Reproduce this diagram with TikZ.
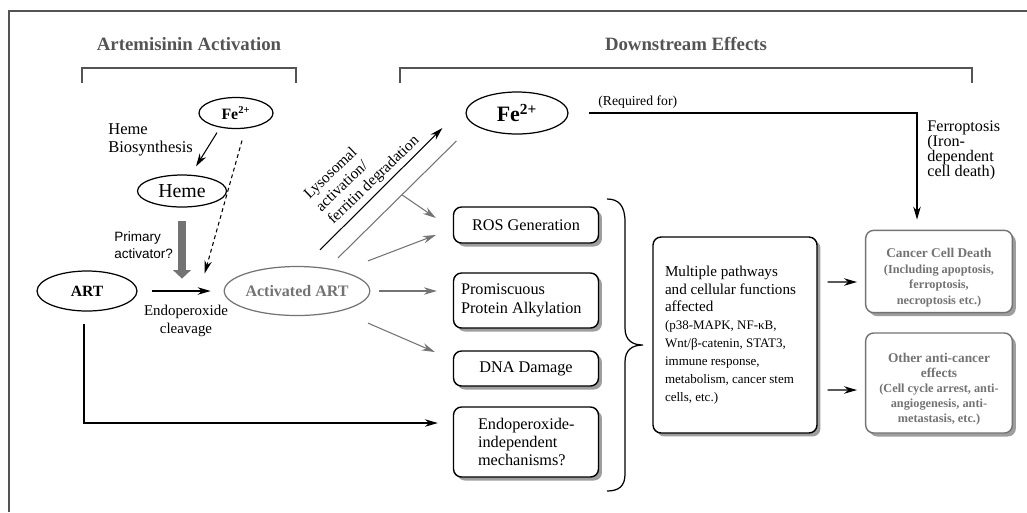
\documentclass[tikz,border=0pt]{standalone}
\usepackage{fontspec}
\setmainfont{Liberation Serif}
\newfontfamily\arialfont{Liberation Sans}
\usetikzlibrary{positioning}
\usetikzlibrary{shapes.geometric}
\usetikzlibrary{arrows.meta}
\usetikzlibrary{shadows}
\definecolor{headgray}{gray}{0.33}
\definecolor{softgray}{gray}{0.45}
\definecolor{shadegray}{gray}{0.62}
\newcommand{\setfs}[2]{\fontsize{#1}{#2}\selectfont\lineskiplimit=-6pt}
\hyphenpenalty=10000
\exhyphenpenalty=10000

\begin{document}
\begin{tikzpicture}[x=0.02cm,y=-0.02cm,
 title/.style={text=headgray,font=\setfs{10.7}{12}\bfseries},
 bracket/.style={headgray,line width=1.3pt},
 oval/.style={ellipse,draw,line width=0.7pt,inner sep=0pt},
 words/.style={inner sep=0pt,align=flush left},
 box/.style={rectangle,rounded corners=0.16cm,draw,line width=0.8pt,fill=white,
   minimum width=2.9cm,font=\setfs{9.25}{10.6},
   drop shadow={shadow xshift=0.07cm,shadow yshift=-0.07cm,fill=shadegray,opacity=1}},
 graybox/.style={box,draw=softgray,text=softgray,minimum width=2.92cm,text width=2.7cm,align=flush center},
 arr/.style={-{Stealth[length=0.26cm,width=0.15cm]},line width=0.6pt},
 grayarr/.style={arr,softgray},
 fatarrow/.style={softgray,line width=0.16cm,-{Triangle[length=0.17cm,width=0.35cm]}}]
 \useasboundingbox (0,0) rectangle (1027,512);
 \draw[headgray,line width=1.1pt] (9,512) -- (9,11) -- (1027,11);

 % headings
 \node[title] (acttitle) at (189,44) {Artemisinin Activation};
 \node[title] (downtitle) at (686,44) {Downstream Effects};
 \draw[bracket] (82,83) -- (82,68) -- (296,68) -- (296,83);
 \draw[bracket] (400,83) -- (400,68) -- (972,68) -- (972,83);

 % activation side
 \node[oval,minimum width=1.48cm,minimum height=0.62cm,font=\setfs{9}{10}\bfseries] (fesmall) at (236,113) {Fe\textsuperscript{2+}};
 \node[words,anchor=west,text width=1.8cm] (biosyn) at (108,140) {\setfs{9.4}{10.2}Heme\\Biosynthesis\par};
 \node[oval,minimum width=1.78cm,minimum height=0.64cm,font=\setfs{11.3}{13}] (heme) at (182,191) {Heme};
 \node[words,anchor=west,text width=1.3cm,font=\arialfont] (primary) at (114,245) {\setfs{7.7}{9.6}Primary\\activator?\par};
 \node[oval,minimum width=2cm,minimum height=0.8cm,font=\setfs{8.9}{10}\bfseries] (art) at (87,291) {ART};
 \node[oval,draw=softgray,text=softgray,minimum width=2.4cm,minimum height=0.98cm,font=\setfs{9.1}{10}\bfseries] (actart) at (297,291) {Activated ART};
 \node[words,align=flush center,text width=2cm] (cleave) at (186,321) {\setfs{8.5}{10.2}Endoperoxide\\cleavage\par};

 \draw[arr] ([xshift=-0.38cm,yshift=-0.07cm]fesmall.south) -- ([xshift=0.28cm,yshift=0.16cm]heme.north);
 \draw[arr,dash pattern=on 2.2pt off 1.8pt] ([xshift=0.12cm,yshift=-0.23cm]fesmall.south) -- ([xshift=-0.38cm,yshift=0.35cm]actart.west);
 \draw[fatarrow] ([yshift=-0.26cm]heme.south) -- ([yshift=-1.42cm]heme.south);
 \draw[arr,shorten <=0.28cm,shorten >=0.26cm] (art.east) -- (actart.west);

 % downstream side
 \node[words,rotate=44,text width=2.45cm] (lysotext) at (363,167) {\setfs{8.8}{9.8}Lysosomal\\activation/\\ferritin degradation\par};
 \node[oval,minimum width=2.04cm,minimum height=0.84cm,font=\setfs{12.5}{14}\bfseries] (febig) at (517,113) {Fe\textsuperscript{2+}};
 \node[anchor=west,inner sep=0pt,font=\setfs{7.8}{9}] (reqfor) at (598,102) {(Required for)};
 \node[words,anchor=west,text width=1.7cm] (ferrtext) at (927,150) {\setfs{9.2}{8.5}Ferroptosis\\(Iron-\\dependent\\cell death)\par};

 \node[box,minimum height=0.72cm] (ros) at (526,225) {ROS Generation};
 \node[box,minimum height=1.1cm,text width=2.6cm,align=flush left] (prot) at (526,300.5) {\setfs{9.25}{10.8}Promiscuous\\Protein Alkylation\par};
 \node[box,minimum height=0.7cm] (dna) at (526,368.5) {DNA Damage};
 \node[box,minimum height=1.4cm,text width=1.92cm,align=flush left] (endo) at (526,442) {\setfs{9.25}{10.5}Endoperoxide-\\independent\\mechanisms?\par};

 \node[box,minimum width=3.28cm,minimum height=3.92cm,text width=2.8cm,align=flush left] (pathways) at (735,335)
  {\setfs{8.6}{10.2}Multiple pathways\\and cellular functions\\affected\\\setfs{7.4}{10.2}(p38-MAPK, NF-κB,\\Wnt/β-catenin, STAT3,\\immune response,\\metabolism, cancer stem\\cells, etc.)\par};

 \node[graybox,minimum height=1.62cm,font=\bfseries] (death) at (939,271.5)
  {\setfs{7.6}{8.8}\rule{0pt}{12.3pt}Cancer Cell Death\\\setfs{7}{8.8}(Including apoptosis,\\ferroptosis,\\necroptosis etc.)\par};
 \node[graybox,minimum height=2cm,font=\bfseries] (other) at (939,383)
  {\setfs{7.6}{8.5}\rule{0pt}{12pt}Other anti-cancer\\effects\\\setfs{7}{8.5}(Cell cycle arrest, anti-\\angiogenesis, anti-\\metastasis, etc.)\par};

 % connectors
 \draw[arr] ([xshift=0.46cm,yshift=0.32cm]actart.north) -- ([xshift=-0.46cm,yshift=-0.3cm]febig.west);
 \draw[softgray,line width=0.6pt] ([xshift=0.82cm,yshift=0.16cm]actart.north) -- coordinate[pos=0.54] (fork) ([xshift=-0.18cm,yshift=-0.56cm]febig.west);
 \draw[grayarr] (fork) -- ([xshift=-0.34cm,yshift=0.14cm]ros.west);
 \draw[grayarr] ([xshift=1.42cm,yshift=0.1cm]actart.north) -- ([xshift=-0.34cm,yshift=-0.2cm]ros.west);
 \draw[grayarr] ([xshift=0.18cm]actart.east) -- ([xshift=-0.32cm]actart.east -| prot.west);
 \draw[grayarr] ([xshift=1.42cm,yshift=-0.14cm]actart.south) -- ([xshift=-0.36cm,yshift=0.33cm]dna.west);
 \draw[arr,shorten >=0.3cm] ([xshift=-0.06cm,yshift=-0.24cm]art.south) |- ([yshift=0.38cm]endo.west);
 \draw[arr] ([xshift=0.4cm]febig.east) -| ([xshift=-0.44cm,yshift=0.2cm]death.north);
 \draw[arr] ([xshift=0.2cm,yshift=1.06cm]pathways.east) -- ([xshift=-0.16cm,yshift=-0.21cm]death.west);
 \draw[arr] ([xshift=0.2cm,yshift=-1.1cm]pathways.east) -- ([xshift=-0.16cm,yshift=-0.14cm]other.west);

 % brace
 \draw[line width=0.7pt] (607,199) .. controls (619,199) and (625,206) .. (625,222) -- (625,328)
  .. controls (625,340) and (632,345) .. (643,345) .. controls (632,345) and (625,350) .. (625,362)
  -- (625,474) .. controls (625,486) and (619,491) .. (607,491);
\end{tikzpicture}
\end{document}
